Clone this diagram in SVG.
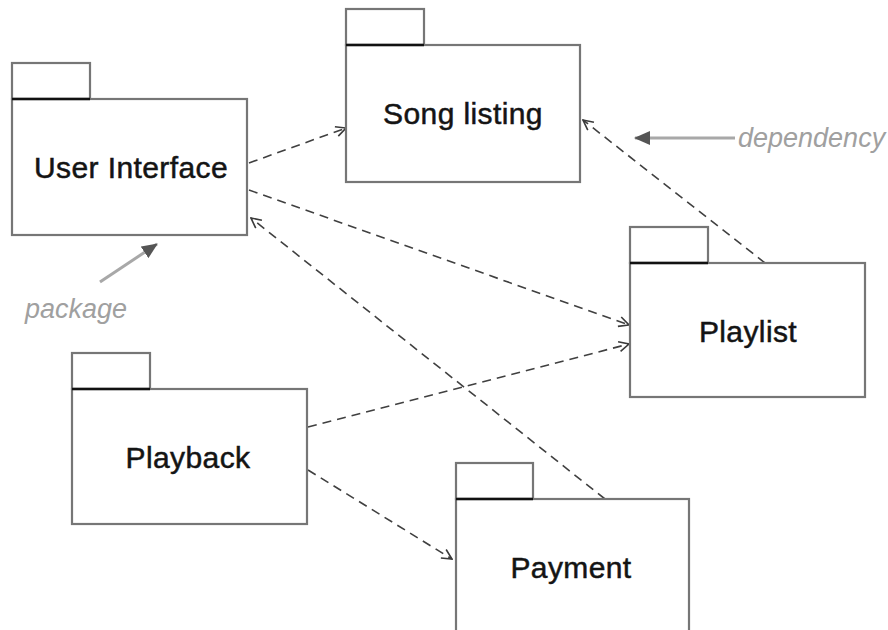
<svg xmlns="http://www.w3.org/2000/svg" width="888" height="630" viewBox="0 0 888 630">
  <style>
    .frame { fill: #ffffff; stroke: #767676; stroke-width: 2.2; }
    .tabline { stroke: #111111; stroke-width: 2.4; }
    .name { font-family: "Liberation Sans", Arial, sans-serif; font-size: 30px; letter-spacing: 0.4px; fill: #141414; text-anchor: middle; stroke: #141414; stroke-width: 0.5; }
    .dep { fill: none; stroke: #404040; stroke-width: 1.6; stroke-dasharray: 9 6; marker-end: url(#open); }
    .note { font-family: "Liberation Sans", Arial, sans-serif; font-style: italic; font-size: 27px; fill: #a0a0a0; }
    .pointer { stroke: #a8a8a8; stroke-width: 3; marker-end: url(#solid); }
  </style>
  <defs>
    <marker id="open" viewBox="0 0 12 12" refX="11" refY="6" markerWidth="12" markerHeight="12" markerUnits="userSpaceOnUse" orient="auto">
      <path d="M1,1 L11,6 L1,11" fill="none" stroke="#3a3a3a" stroke-width="1.6"/>
    </marker>
    <marker id="solid" viewBox="0 0 16 14" refX="15" refY="7" markerWidth="16" markerHeight="14" markerUnits="userSpaceOnUse" orient="auto">
      <path d="M0,0 L16,7 L0,14 Z" fill="#555555"/>
    </marker>
  </defs>
  <rect width="888" height="630" fill="#ffffff"/>

  <!-- dependency connectors -->
  <g id="connectors">
    <path class="dep" d="M249,163 L346,128"/>
    <path class="dep" d="M249,190 L629,325"/>
    <path class="dep" d="M765,263 L583,120"/>
    <path class="dep" d="M605,499 L251,218"/>
    <path class="dep" d="M308,427 L629,344"/>
    <path class="dep" d="M308,470 L452,559"/>
  </g>

  <g id="user-interface">
    <rect class="frame" x="12" y="63" width="78" height="36"/>
    <rect class="frame" x="12" y="99" width="235" height="136"/>
    <line class="tabline" x1="12" y1="99" x2="90" y2="99"/>
    <text class="name" x="131" y="178">User Interface</text>
  </g>

  <g id="song-listing">
    <rect class="frame" x="346" y="9" width="78" height="36"/>
    <rect class="frame" x="346" y="45" width="234" height="137"/>
    <line class="tabline" x1="346" y1="45" x2="424" y2="45"/>
    <text class="name" x="463" y="124">Song listing</text>
  </g>

  <g id="playlist">
    <rect class="frame" x="630" y="227" width="78" height="36"/>
    <rect class="frame" x="630" y="263" width="235" height="134"/>
    <line class="tabline" x1="630" y1="263" x2="708" y2="263"/>
    <text class="name" x="748" y="342">Playlist</text>
  </g>

  <g id="playback">
    <rect class="frame" x="72" y="353" width="78" height="36"/>
    <rect class="frame" x="72" y="389" width="235" height="135"/>
    <line class="tabline" x1="72" y1="389" x2="150" y2="389"/>
    <text class="name" x="188" y="468">Playback</text>
  </g>

  <g id="payment">
    <rect class="frame" x="456" y="463" width="77" height="36"/>
    <rect class="frame" x="456" y="499" width="233" height="140"/>
    <line class="tabline" x1="456" y1="499" x2="533" y2="499"/>
    <text class="name" x="571" y="578">Payment</text>
  </g>

  <!-- explanatory notes -->
  <g id="note-dependency">
    <line class="pointer" x1="735" y1="138" x2="635" y2="138"/>
    <text class="note" x="738" y="147">dependency</text>
  </g>
  <g id="note-package">
    <line class="pointer" x1="100" y1="282" x2="157" y2="244"/>
    <text class="note" x="25" y="318">package</text>
  </g>
</svg>
